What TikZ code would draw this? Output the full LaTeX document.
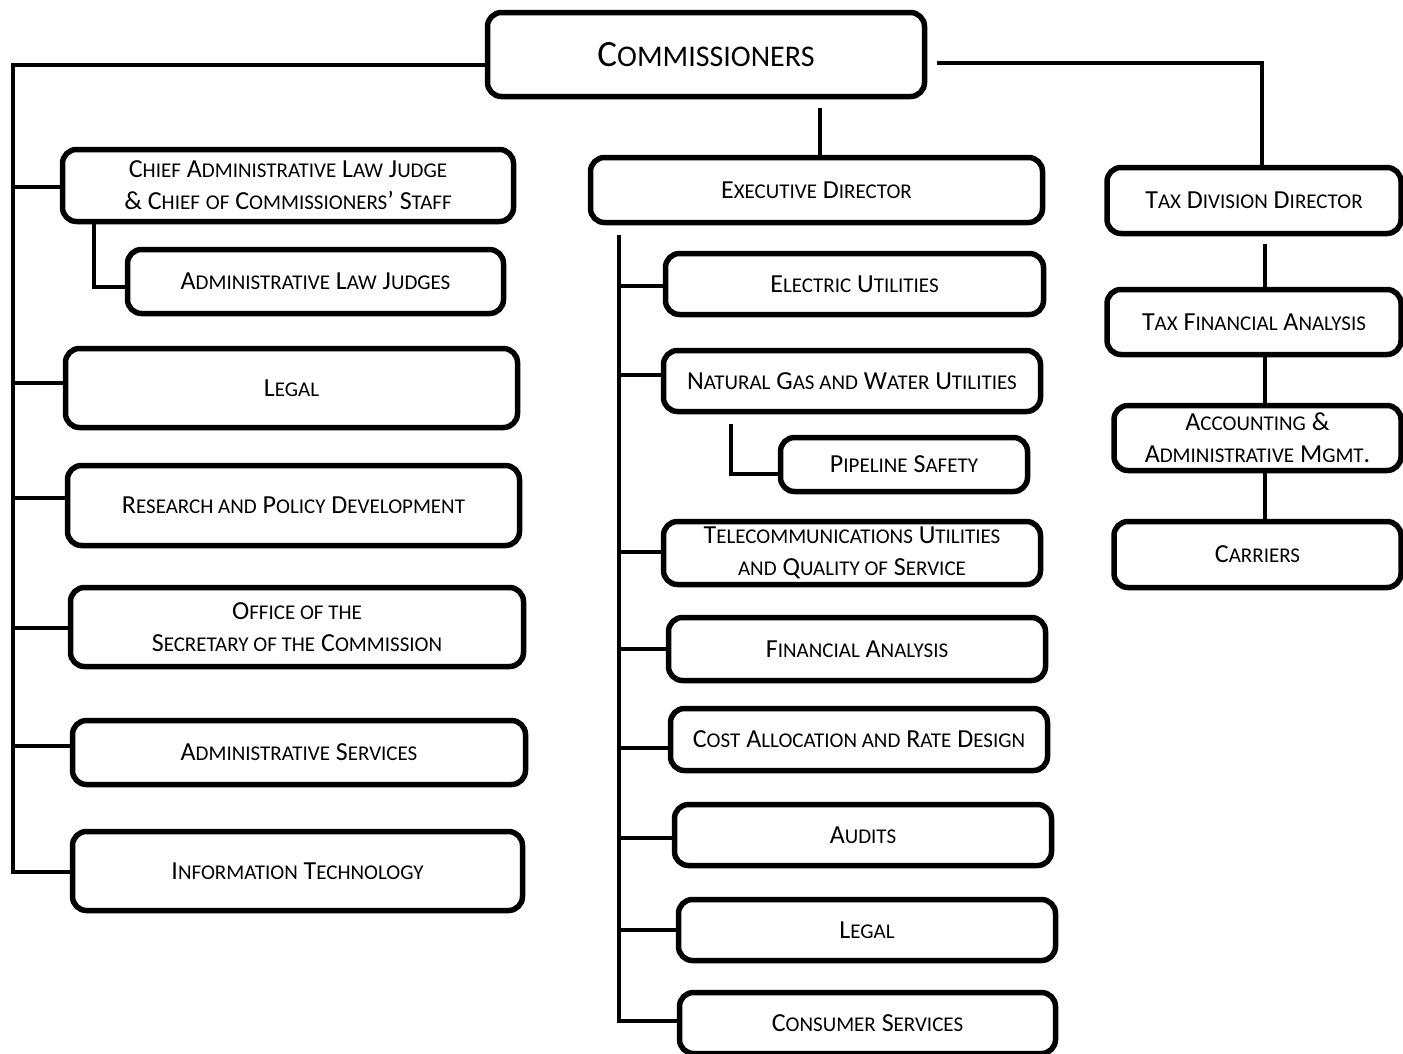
\documentclass[tikz,border=0pt]{standalone}
\usepackage{fontspec}
\setmainfont{Carlito}
\newcommand\sm[1]{{\fontsize{21}{32}\selectfont #1}}
\newcommand\smL[1]{{\fontsize{30}{40}\selectfont #1}}
\begin{document}
\begin{tikzpicture}[x=1pt,y=-1pt,
  box/.style={draw=black, line width=5.5pt, rounded corners=14pt, fill=white,
    align=center, inner sep=0pt, font=\fontsize{26}{32}\selectfont},
  conn/.style={draw=black, line width=3.2pt}]
\useasboundingbox (0,0) rectangle (1403,1053);

% top
\node[box, minimum width=437, minimum height=84, font=\fontsize{37}{40}\selectfont] (comm) at (706,54.5) {C\smL{OMMISSIONERS}};

% left column
\node[box, minimum width=451, minimum height=72] (chief) at (288,185.5)
  {C\sm{HIEF} A\sm{DMINISTRATIVE} L\sm{AW} J\sm{UDGE}\\\& C\sm{HIEF} \sm{OF} C\sm{OMMISSIONERS}’ S\sm{TAFF}};
\node[box, minimum width=376, minimum height=64] (alj) at (315.5,281.5) {A\sm{DMINISTRATIVE} L\sm{AW} J\sm{UDGES}};
\node[box, minimum width=452, minimum height=79] (legalL) at (291.5,388) {L\sm{EGAL}};
\node[box, minimum width=452, minimum height=80] (research) at (293.5,505.5) {R\sm{ESEARCH AND} P\sm{OLICY} D\sm{EVELOPMENT}};
\node[box, minimum width=453, minimum height=79] (office) at (297,627) {O\sm{FFICE OF THE}\\S\sm{ECRETARY OF THE} C\sm{OMMISSION}};
\node[box, minimum width=453, minimum height=64] (adminsvc) at (299,752.5) {A\sm{DMINISTRATIVE} S\sm{ERVICES}};
\node[box, minimum width=450, minimum height=79] (it) at (297.5,871) {I\sm{NFORMATION} T\sm{ECHNOLOGY}};

% middle column
\node[box, minimum width=452, minimum height=65] (exec) at (816.5,190) {E\sm{XECUTIVE} D\sm{IRECTOR}};
\node[box, minimum width=378, minimum height=61] (elec) at (854.5,284) {E\sm{LECTRIC} U\sm{TILITIES}};
\node[box, minimum width=377, minimum height=61] (gas) at (852,381) {N\sm{ATURAL} G\sm{AS AND} W\sm{ATER} U\sm{TILITIES}};
\node[box, minimum width=247, minimum height=54] (pipe) at (904,464.5) {P\sm{IPELINE} S\sm{AFETY}};
\node[box, minimum width=377, minimum height=63] (tele) at (852,553) {T\sm{ELECOMMUNICATIONS} U\sm{TILITIES}\\\sm{AND} Q\sm{UALITY OF} S\sm{ERVICE}};
\node[box, minimum width=377, minimum height=63] (fin) at (857,649) {F\sm{INANCIAL} A\sm{NALYSIS}};
\node[box, minimum width=377, minimum height=62] (cost) at (859,739.5) {C\sm{OST} A\sm{LLOCATION AND} R\sm{ATE} D\sm{ESIGN}};
\node[box, minimum width=377, minimum height=61] (audits) at (863,835) {A\sm{UDITS}};
\node[box, minimum width=377, minimum height=61] (legalM) at (867,930) {L\sm{EGAL}};
\node[box, minimum width=376, minimum height=61] (consumer) at (867.5,1023) {C\sm{ONSUMER} S\sm{ERVICES}};

% right column
\node[box, minimum width=294, minimum height=66] (tax) at (1254,200.5) {T\sm{AX} D\sm{IVISION} D\sm{IRECTOR}};
\node[box, minimum width=294, minimum height=65] (taxfin) at (1254,322) {T\sm{AX} F\sm{INANCIAL} A\sm{NALYSIS}};
\node[box, minimum width=287, minimum height=65] (acct) at (1257.5,438) {A\sm{CCOUNTING} \&\\A\sm{DMINISTRATIVE} M\sm{GMT}.};
\node[box, minimum width=287, minimum height=66] (carriers) at (1257.5,554.5) {C\sm{ARRIERS}};

% bus coordinates
\coordinate (LB) at (13,872);
\coordinate (MT) at (619,235);
\coordinate (MB) at (619,1021);

% left bus
\draw[conn] ([yshift=-10.5pt]comm.west) -| (LB) -- (it.west |- LB);
\draw[conn] (chief.west |- 0,187) -- (LB |- 0,187);
\draw[conn] (legalL.west |- 0,383) -- (LB |- 0,383);
\draw[conn] (research.west |- 0,498) -- (LB |- 0,498);
\draw[conn] (office.west |- 0,628) -- (LB |- 0,628);
\draw[conn] (adminsvc.west |- 0,746) -- (LB |- 0,746);
\draw[conn] (94,0 |- chief.south) -- (94,287) -- (alj.west |- 0,287);

% middle
\draw[conn] ([yshift=-9pt]820,0 |- comm.south) -- (820,0 |- exec.north);
\draw[conn] (MT) -- (MB) -- (consumer.west |- MB);
\draw[conn] (elec.west |- 0,286) -- (MT |- 0,286);
\draw[conn] (gas.west |- 0,375) -- (MT |- 0,375);
\draw[conn] (tele.west |- 0,552) -- (MT |- 0,552);
\draw[conn] (fin.west |- 0,649) -- (MT |- 0,649);
\draw[conn] (cost.west |- 0,748) -- (MT |- 0,748);
\draw[conn] (audits.west |- 0,838) -- (MT |- 0,838);
\draw[conn] (legalM.west |- 0,930) -- (MT |- 0,930);
\draw[conn] (731,424) -- (731,474) -- (pipe.west |- 0,474);

% right
\draw[conn] ([yshift=-8.5pt,xshift=10pt]comm.east) -| (1262,0 |- tax.north);
\draw[conn] ([yshift=-8pt]1265,0 |- tax.south) -- (1265,0 |- taxfin.north);
\draw[conn] (1265,0 |- taxfin.south) -- (1265,0 |- acct.north);
\draw[conn] (1265,0 |- acct.south) -- (1265,0 |- carriers.north);
\end{tikzpicture}
\end{document}
